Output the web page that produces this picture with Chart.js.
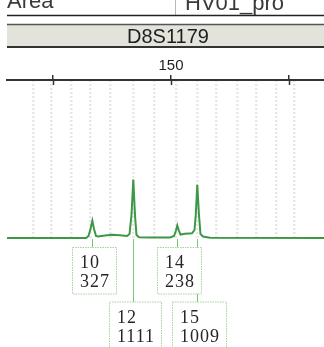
<!DOCTYPE html>
<html>
<head>
<meta charset="utf-8">
<script src="https://cdn.jsdelivr.net/npm/chart.js@4.4.1/dist/chart.umd.min.js"></script>
<style>
  html, body { margin: 0; padding: 0; background: #ffffff; }
  #wrap { width: 324px; height: 347px; position: relative; overflow: hidden; }
  canvas { display: block; }
</style>
</head>
<body>
<div id="wrap"><canvas id="epg" width="324" height="347"></canvas></div>
<script>
// Marker panel: D8S1179 electropherogram
const markerName = 'D8S1179';
const headerLeft = 'Area';
const headerRight = 'HV01_pro';

// size axis (bp)
const sizeRange = [115.25, 182.42];
const sizeTicks = [125, 150, 175];
const labeledSizes = [150];

// allele bins (bp)
const binSizes = [120.83, 124.73, 128.81, 132.84, 137.08, 142.01, 146.40,
                  151.21, 155.57, 159.68, 164.05, 168.16, 172.25, 176.06];

// called alleles
const alleles = ['10', '12', '14', '15'];
const alleleSizes = [133.33, 142.01, 151.33, 155.57];
const alleleHeights = [327, 1111, 238, 1009];

// signal trace (size in bp, height in RFU)
const traceSize = [115.25, 132.00, 132.52, 132.94, 133.33, 133.69, 134.11, 134.53,
                   136.02, 137.50, 139.20, 140.68, 141.21, 141.63, 142.01, 142.37,
                   142.69, 143.22, 145.55, 149.79, 150.64, 151.02, 151.33, 151.69,
                   152.01, 152.97, 154.45, 154.98, 155.25, 155.57, 155.93, 156.25,
                   156.78, 158.26, 182.42];
const traceRfu  = [0, 0, 38, 171, 327, 171, 38, 28,
                   47, 61, 51, 38, 76, 437, 1111, 437,
                   57, 13, 10, 10, 38, 133, 238, 133,
                   66, 80, 89, 152, 437, 1009, 437, 76,
                   28, 6, 0];
const rfuMax = 3000;

const tracePoints = traceSize.map((s, i) => ({ x: s, y: traceRfu[i] }));

// header strip above the plot
const headerPlugin = {
  id: 'header',
  beforeDraw(chart) {
    const ctx = chart.ctx;
    const W = chart.width;
    ctx.save();
    ctx.fillStyle = '#3a3a3a';
    ctx.font = '22px "Liberation Sans", Arial, sans-serif';
    ctx.textBaseline = 'alphabetic';
    ctx.textAlign = 'left';
    ctx.fillText(headerLeft, 7, 8);
    ctx.fillText(headerRight, 185, 10);

    ctx.strokeStyle = '#b8b8b8';
    ctx.lineWidth = 1;
    ctx.beginPath(); ctx.moveTo(175.5, 0); ctx.lineTo(175.5, 15); ctx.stroke();

    ctx.strokeStyle = '#222';
    ctx.lineWidth = 1.5;
    ctx.beginPath(); ctx.moveTo(7, 15.5); ctx.lineTo(W, 15.5); ctx.stroke();

    ctx.fillStyle = '#e3e3dc';
    ctx.fillRect(7, 24, W - 7, 23);
    ctx.strokeStyle = '#555';
    ctx.lineWidth = 1.5;
    ctx.beginPath(); ctx.moveTo(7, 24.5); ctx.lineTo(W, 24.5); ctx.stroke();
    ctx.strokeStyle = '#333';
    ctx.lineWidth = 2;
    ctx.beginPath(); ctx.moveTo(7, 47); ctx.lineTo(W, 47); ctx.stroke();

    ctx.fillStyle = '#1e1e1e';
    ctx.font = '20px "Liberation Sans", Arial, sans-serif';
    ctx.textAlign = 'center';
    ctx.fillText(markerName, 168, 43);
    ctx.restore();
  }
};

// tick marks crossing the size axis line, plus allele call boxes
const annotatePlugin = {
  id: 'annotate',
  afterDraw(chart) {
    const ctx = chart.ctx;
    const xs = chart.scales.x;
    const ys = chart.scales.y;
    const area = chart.chartArea;
    ctx.save();

    // lower half of the size ticks
    ctx.strokeStyle = '#333';
    ctx.lineWidth = 1.5;
    sizeTicks.forEach(v => {
      const px = Math.round(xs.getPixelForValue(v)) + 0.5;
      ctx.beginPath(); ctx.moveTo(px, area.top); ctx.lineTo(px, area.top + 5); ctx.stroke();
    });

    const rows = [
      { top: 247.5, h: 46.5, base1: 268, base2: 287 },
      { top: 302, h: 48, base1: 323, base2: 342 }
    ];
    const baseY = ys.getPixelForValue(0);

    // leader lines first so boxes sit on top
    ctx.strokeStyle = '#7cc47e';
    ctx.lineWidth = 1;
    alleles.forEach((a, i) => {
      const px = Math.round(xs.getPixelForValue(alleleSizes[i])) + 0.5;
      const r = rows[i % 2];
      ctx.beginPath(); ctx.moveTo(px, baseY + 1); ctx.lineTo(px, r.top); ctx.stroke();
    });

    ctx.font = '18px "Liberation Serif", "Times New Roman", serif';
    ctx.letterSpacing = '1px';
    ctx.textBaseline = 'alphabetic';
    ctx.textAlign = 'left';
    alleles.forEach((a, i) => {
      const px = xs.getPixelForValue(alleleSizes[i]);
      const r = rows[i % 2];
      const hText = String(alleleHeights[i]);
      const tw = Math.max(ctx.measureText(a).width, ctx.measureText(hText).width);
      const w = Math.round(tw + 14);
      const left = Math.round(px - w / 2 + 1.5) + 0.5;
      ctx.fillStyle = '#ffffff';
      ctx.fillRect(left, r.top, w, r.h);
      ctx.strokeStyle = '#a6d3a0';
      ctx.setLineDash([1.5, 1]);
      ctx.strokeRect(left, r.top, w, r.h);
      ctx.setLineDash([]);
      ctx.fillStyle = '#262626';
      ctx.fillText(a, left + 7.5, r.base1);
      ctx.fillText(hText, left + 7.5, r.base2);
    });
    ctx.restore();
  }
};

new Chart(document.getElementById('epg'), {
  type: 'line',
  data: {
    datasets: [{
      data: tracePoints,
      borderColor: '#3d9845',
      borderWidth: 2,
      pointRadius: 0,
      tension: 0,
      fill: false,
      clip: false
    }]
  },
  options: {
    responsive: false,
    devicePixelRatio: 1,
    animation: false,
    events: [],
    layout: { padding: { top: 0, left: 7, right: 0, bottom: 109 } },
    plugins: { legend: { display: false }, tooltip: { enabled: false } },
    scales: {
      x: {
        type: 'linear',
        position: 'top',
        min: sizeRange[0],
        max: sizeRange[1],
        afterBuildTicks(scale) { scale.ticks = sizeTicks.map(v => ({ value: v })); },
        afterFit(scale) { scale.height = 80; },
        ticks: {
          autoSkip: false,
          maxRotation: 0,
          padding: 0,
          color: '#1e1e1e',
          font: { family: '"Liberation Sans", Arial, sans-serif', size: 15 },
          callback: v => labeledSizes.includes(v) ? String(v) : ''
        },
        grid: { drawOnChartArea: false, drawTicks: true, tickLength: 5, color: '#333', lineWidth: 1.5 },
        border: { display: true, color: '#333', width: 2 }
      },
      bins: {
        type: 'linear',
        position: 'bottom',
        min: sizeRange[0],
        max: sizeRange[1],
        afterBuildTicks(scale) { scale.ticks = binSizes.map(v => ({ value: v })); },
        afterFit(scale) { scale.height = 0; },
        ticks: { display: false },
        grid: { drawOnChartArea: true, drawTicks: false, color: 'rgba(185,185,185,0.35)', lineWidth: 2.5 },
        border: { display: false, dash: [2, 2] }
      },
      y: {
        display: false,
        min: 0,
        max: rfuMax
      }
    }
  },
  plugins: [headerPlugin, annotatePlugin]
});
</script>
</body>
</html>
